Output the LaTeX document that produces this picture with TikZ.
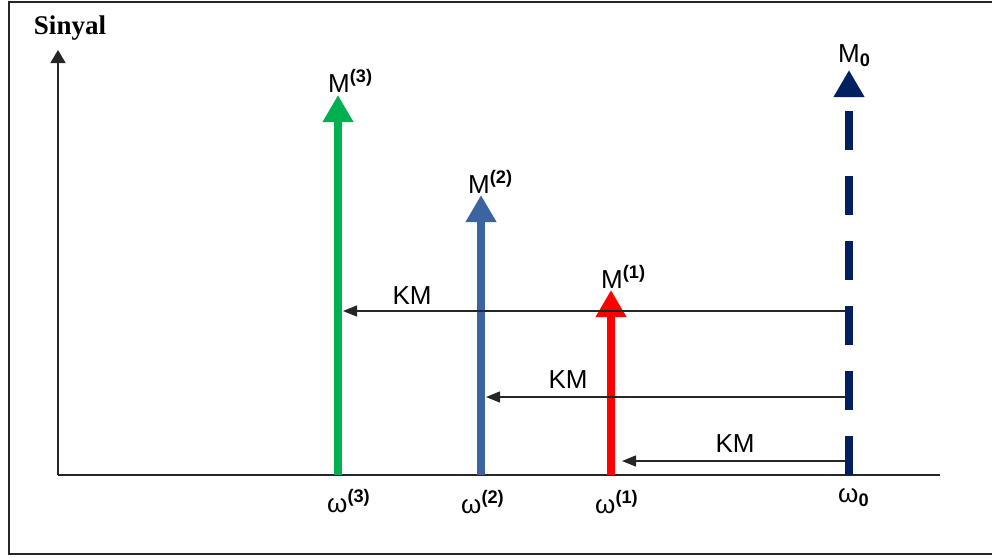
\documentclass[tikz,border=0pt]{standalone}
\usepackage{fontspec}
\setmainfont{Liberation Sans}
\newfontfamily\sinyalfont{Liberation Serif}
\usetikzlibrary{arrows.meta}
\definecolor{cgreen}{HTML}{00B050}
\definecolor{cblue}{RGB}{59,100,160}
\definecolor{cred}{HTML}{FF0000}
\definecolor{cnavy}{HTML}{002060}
\begin{document}
\begin{tikzpicture}[x=1pt,y=-1pt,
  frame/.style={draw=black!85,line width=2pt},
  axis/.style={draw=black!85,line width=1.5pt},
  spike/.style={line width=8pt,-{Triangle[width=29pt,length=27pt]}},
  kmarrow/.style={draw=black!85,line width=1.4pt,-{Triangle[width=11pt,length=14pt]}},
  lbl/.style={inner sep=0pt,anchor=base west,font=\fontsize{26}{30}\selectfont},
  kmlbl/.style={inner sep=0pt,font=\fontsize{26}{30}\selectfont}]
\useasboundingbox (0,0) rectangle (992,557);
\draw[frame] (8.5,1.5) rectangle (1010,554);
% axes
\coordinate (o) at (58,475);
\coordinate (ytop) at (58,50);
\coordinate (xend) at (940,475);
\draw[axis,-{Triangle[width=15pt,length=13pt]}] (o) -- (ytop);
\draw[axis] (o) -- (xend);
\node[inner sep=0pt,font=\sinyalfont\bfseries\fontsize{27}{30}\selectfont] (sinyal) at (70,28) {Sinyal};
% spikes
\coordinate (g0) at (338,475); \coordinate (g1) at (338,95);
\coordinate (b0) at (481,475); \coordinate (b1) at (481,195);
\coordinate (r0) at (611,475); \coordinate (r1) at (611,290);
\coordinate (n0) at (849,475); \coordinate (n1) at (849,70);
\draw[spike,cgreen] (g0) -- (g1);
\draw[spike,cblue] (b0) -- (b1);
\draw[spike,cred] (r0) -- (r1);
\draw[spike,cnavy,dash pattern=on 39pt off 26pt] (n0) -- (n1);
% spike labels
\node[lbl] (m3) at (328,92) {M\textsuperscript{\textbf{(3)}}};
\node[lbl] (m2) at (468,193) {M\textsuperscript{\textbf{(2)}}};
\node[lbl] (m1) at (601,288) {M\textsuperscript{\textbf{(1)}}};
\node[lbl] (m0) at (838,62) {M\textsubscript{\textbf{0}}};
% omega labels
\node[lbl] (w3) at (327,512) {ω\textsuperscript{\textbf{(3)}}};
\node[lbl] (w2) at (461,513) {ω\textsuperscript{\textbf{(2)}}};
\node[lbl] (w1) at (595,513) {ω\textsuperscript{\textbf{(1)}}};
\node[lbl] (w0) at (838,502) {ω\textsubscript{\textbf{0}}};
% KM arrows
\coordinate (k1s) at (845,311); \coordinate (k1e) at (343,311);
\coordinate (k2s) at (845,397); \coordinate (k2e) at (486,397);
\coordinate (k3s) at (845,461); \coordinate (k3e) at (622,461);
\draw[kmarrow] (k1s) -- (k1e);
\draw[kmarrow] (k2s) -- (k2e);
\draw[kmarrow] (k3s) -- (k3e);
\node[kmlbl] (km1) at (412,296) {KM};
\node[kmlbl] (km2) at (568,380) {KM};
\node[kmlbl] (km3) at (735,444) {KM};
\end{tikzpicture}
\end{document}
